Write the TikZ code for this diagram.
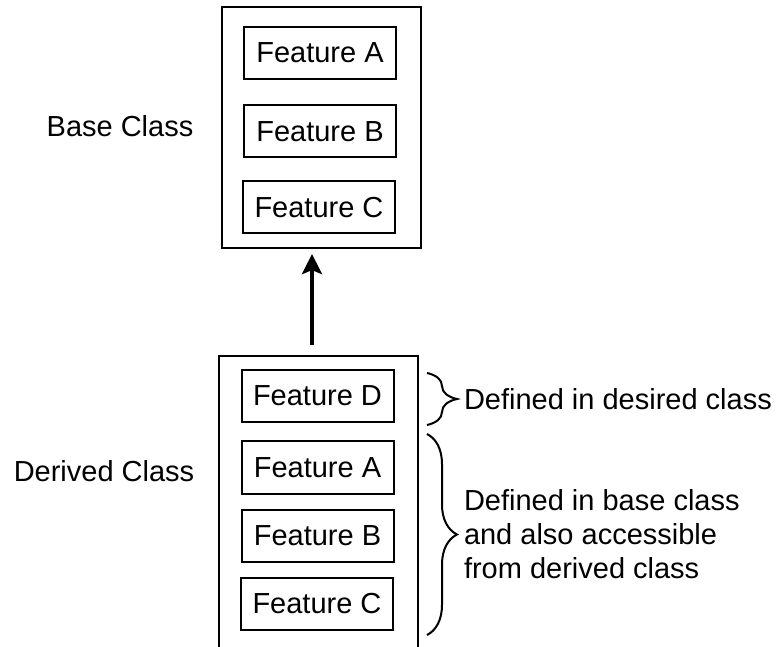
\documentclass[tikz,border=0pt]{standalone}
\usepackage{fontspec}
\setmainfont{Liberation Sans}
\usetikzlibrary{arrows.meta,decorations.pathreplacing}

\tikzset{
  feature/.style={draw,line width=1pt,minimum width=76pt,minimum height=26pt,inner sep=0pt,
    font=\fontsize{14.5}{17}\selectfont},
  classbox/.style={draw,line width=1.1pt},
  classname/.style={inner sep=0pt,font=\fontsize{14.5}{17}\selectfont},
  inherit/.style={line width=2pt,-{Stealth[length=10pt,width=10pt,inset=2pt]}},
  bracket/.style={line width=1pt,decorate,decoration={brace,amplitude=15pt}},
}

\begin{document}
\begin{tikzpicture}[x=0.5pt,y=-0.5pt]
    \useasboundingbox (0,0) rectangle (778,647);

    % base class
    \node[classbox,minimum width=99.5pt,minimum height=120.5pt] (base) at (321.5,127.5) {};
    \node[feature] (bA) at (320,53) {Feature A};
    \node[feature] (bB) at (320,131.5) {Feature B};
    \node[feature] (bC) at (319,207.5) {Feature C};
    \node[classname] (basename) at (120,126) {Base Class};

    % derived class (cut off at the bottom)
    \coordinate (dl) at (219,647);
    \coordinate (dr) at (418,647);
    \coordinate (dtop) at (312,345);
    \draw[classbox] (dl) |- (418,356) -- (dr);
    \node[feature] (dD) at (317.5,396) {Feature D};
    \node[feature] (dA) at (317.5,467.5) {Feature A};
    \node[feature] (dB) at (317.5,535.5) {Feature B};
    \node[feature] (dC) at (317,604) {Feature C};
    \node[classname] (derivedname) at (104,471) {Derived Class};

    \draw[inherit,shorten >=2.5pt] (dtop) -- (base.south -| dtop);

    % braces
    \coordinate (b1s) at (427,373);
    \coordinate (b1e) at (427,425);
    \coordinate (b2s) at (427,434);
    \coordinate (b2e) at (427,635);
    \draw[bracket] (b1s) -- (b1e) node[midway,anchor=west,xshift=18pt,classname] (own) {Defined in desired class};
    \draw[bracket] (b2s) -- (b2e) node[midway,anchor=west,xshift=18pt,classname,align=left] (inherited)
        {Defined in base class\\and also accessible\\from derived class};
\end{tikzpicture}
\end{document}
